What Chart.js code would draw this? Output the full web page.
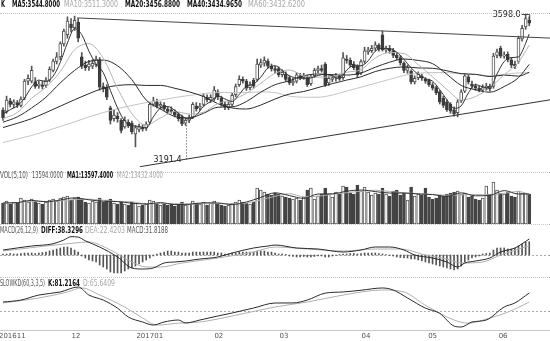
<!DOCTYPE html>
<html>
<head>
<meta charset="utf-8">
<script src="https://cdn.jsdelivr.net/npm/chart.js@4/dist/chart.umd.min.js"></script>
<style>
body { margin:0; background:#fff; width:550px; height:341px; overflow:hidden; position:relative;
       font-family:"DejaVu Sans",sans-serif; }
canvas { position:absolute; left:0; }
.t { position:absolute; font-size:8.5px; line-height:9px; white-space:nowrap; color:#555; z-index:2;
     transform-origin:left center; }
.top { font-size:9px; }
.d { color:#111; font-weight:bold; }
.l { color:#a8a8a8; }
.sep { position:absolute; left:0; width:550px; height:0; border-top:1px dotted #c4c4c4; z-index:1; }
</style>
</head>
<body>
<canvas id="kline" width="550" height="172" style="top:0px"></canvas>
<canvas id="vol" width="550" height="52" style="top:172px"></canvas>
<canvas id="macd" width="550" height="53" style="top:224px"></canvas>
<canvas id="kd" width="550" height="64" style="top:277px"></canvas>

<div class="sep" style="top:13px"></div>
<div class="sep" style="top:172px"></div>
<div class="sep" style="top:224px"></div>
<div class="sep" style="top:277px"></div>

<div class="t top d" data-w="4" style="left:1px;top:0px">K</div>
<div class="t top d" data-w="48" style="left:12px;top:0px">MA5:3544.8000</div>
<div class="t top l" data-w="54" style="left:64px;top:0px">MA10:3511.3000</div>
<div class="t top d" data-w="55" style="left:125px;top:0px">MA20:3456.8800</div>
<div class="t top d" data-w="55" style="left:187px;top:0px">MA40:3434.9650</div>
<div class="t top l" data-w="57" style="left:248px;top:0px">MA60:3432.6200</div>

<div class="t" data-w="28" style="left:0px;top:171px">VOL(5,10)</div>
<div class="t" data-w="31" style="left:32px;top:171px">13594.0000</div>
<div class="t d" data-w="46" style="left:67px;top:171px">MA1:13597.4000</div>
<div class="t l" data-w="46" style="left:117px;top:171px">MA2:13432.4000</div>

<div class="t" data-w="38" style="left:0px;top:226px">MACD(26,12,9)</div>
<div class="t d" data-w="42" style="left:41px;top:226px">DIFF:38.3296</div>
<div class="t l" data-w="40" style="left:85px;top:226px">DEA:22.4203</div>
<div class="t" data-w="41" style="left:127px;top:226px">MACD:31.8188</div>

<div class="t" data-w="45" style="left:0px;top:279px">SLOWKD(60,3,3,5)</div>
<div class="t d" data-w="32" style="left:48px;top:279px">K:81.2164</div>
<div class="t l" data-w="32" style="left:83px;top:279px">D:65.6409</div>

<script>
// daily bars, Nov 2016 - Jun 2017
const openP = [3329,3325,3355,3345,3350,3342,3362,3410,3410,3408, 3397,3400,3398,3413,3440,3465,3478,3514,3540,3570,
  3560,3575,3478,3455,3450,3452,3456,3470,3395,3392, 3335,3305,3312,3300,3282,3295,3292,3262,3275,3280,
  3278,3295,3345,3352,3340,3342,3332,3330,3325,3318, 3310,3292,3300,3310,3340,3334,3345,3365,3357,3360,
  3380,3362,3345,3336,3345,3372,3400,3415,3410,3392, 3412,3415,3455,3460,3466,3452,3445,3445,3428,3430,
  3420,3405,3410,3425,3420,3420,3403,3425,3440,3445, 3458,3405,3415,3418,3425,3420,3472,3468,3458,3452,
  3432,3465,3492,3495,3502,3510,3540,3497,3502,3495, 3482,3476,3460,3440,3438,3408,3420,3424,3415,3412,
  3400,3392,3380,3362,3352,3345,3330,3322,3355,3382, 3422,3402,3396,3390,3385,3390,3396,3395,3482,3502,
  3480,3485,3470,3458,3465,3528,3562,3580];
const highP = [3335,3368,3362,3358,3356,3366,3415,3428,3452,3420, 3410,3410,3420,3450,3472,3490,3520,3556,3590,3585,
  3592,3585,3490,3466,3468,3470,3480,3476,3405,3400, 3340,3330,3322,3305,3310,3302,3298,3286,3290,3288,
  3296,3350,3365,3360,3352,3350,3338,3338,3330,3322, 3315,3306,3315,3350,3350,3348,3375,3372,3372,3395,
  3386,3368,3352,3352,3376,3402,3425,3422,3415,3408, 3418,3472,3472,3478,3472,3458,3452,3450,3442,3436,
  3425,3418,3434,3432,3432,3426,3428,3446,3452,3455, 3462,3425,3428,3432,3430,3490,3482,3475,3465,3456,
  3470,3505,3505,3510,3520,3515,3550,3508,3510,3502, 3488,3482,3464,3455,3442,3425,3436,3430,3420,3416,
  3406,3396,3384,3368,3358,3350,3338,3358,3386,3432, 3428,3410,3402,3396,3400,3404,3402,3488,3500,3508,
  3492,3492,3476,3466,3536,3566,3598,3590];
const lowP = [3300,3320,3338,3335,3336,3338,3358,3400,3405,3390, 3390,3388,3392,3408,3436,3458,3470,3508,3530,3548,
  3552,3520,3445,3440,3440,3445,3450,3385,3380,3358, 3290,3298,3295,3265,3278,3280,3262,3226,3268,3270,
  3272,3290,3340,3335,3332,3328,3318,3320,3310,3298, 3285,3286,3294,3305,3326,3328,3340,3352,3350,3355,
  3358,3340,3330,3330,3340,3366,3395,3404,3384,3386, 3390,3410,3448,3452,3446,3438,3432,3422,3422,3410,
  3400,3398,3405,3414,3415,3395,3398,3420,3434,3435, 3395,3398,3408,3410,3412,3415,3460,3450,3442,3420,
  3428,3460,3485,3490,3495,3494,3494,3490,3488,3476, 3470,3455,3434,3432,3402,3402,3414,3412,3404,3395,
  3385,3372,3346,3336,3325,3320,3312,3310,3350,3378, 3402,3390,3384,3380,3380,3384,3382,3390,3475,3475,
  3474,3464,3448,3445,3460,3522,3555,3565];
const closeP = [3307,3357,3345,3352,3343,3360,3410,3418,3440,3395, 3402,3395,3413,3443,3466,3478,3515,3550,3578,3560,
  3580,3530,3452,3448,3458,3460,3472,3393,3388,3365, 3300,3315,3305,3272,3300,3285,3268,3280,3282,3276,
  3290,3345,3355,3340,3345,3332,3325,3325,3315,3305, 3290,3300,3308,3345,3332,3340,3368,3358,3365,3385,
  3365,3345,3338,3345,3370,3395,3415,3410,3390,3400, 3396,3458,3462,3468,3452,3445,3440,3428,3435,3415,
  3405,3410,3428,3420,3425,3400,3422,3440,3445,3440, 3400,3418,3420,3425,3418,3475,3468,3455,3448,3428,
  3465,3495,3498,3502,3512,3500,3498,3502,3495,3482, 3476,3462,3440,3448,3408,3418,3430,3418,3410,3400,
  3390,3378,3352,3342,3330,3326,3318,3352,3380,3425, 3408,3396,3390,3385,3392,3396,3388,3480,3492,3480,
  3484,3470,3455,3452,3530,3558,3585,3572];
const volume = [9510,10420,9060,9970,9510,11780,10870,9970,11330,10420, 9510,9060,9970,10870,11330,10420,11780,12230,12680,10870,
  11780,12230,11330,9970,9510,10420,9970,11780,9970,10870, 11330,9510,9060,10420,9060,8610,9970,9510,8150,8610,
  9060,10870,10420,9510,8610,9060,8610,9510,8150,9060, 9970,8610,9060,10420,9510,9060,9970,8610,9510,10420,
  9060,8610,8150,8610,9510,9970,10870,9970,9510,9060, 9970,16310,15400,14500,13590,13140,14040,13590,12680,12230,
  11780,11330,11780,10870,12230,15400,16310,11330,12680,13590, 16310,13590,12230,14500,13590,17210,16760,14040,13590,17670,
  14950,16760,14500,13140,14040,13590,16310,13590,12680,14950, 15400,13140,14040,10870,16760,12680,13590,13140,16310,12230,
  11330,11780,13140,12680,13590,14040,14500,14950,13590,14040, 12230,12680,11330,10870,11780,17210,13590,19030,15400,14040,
  13590,14500,12680,12230,14950,14040,14040,13594];

// moving averages
const ma5Idx = [0,2,4,6,8,10,12,14,16,18,20,22,24,26,28,30,32,34,36,38,40,42,44,46,48,50,52,54,56,58,60,62,64,66,68,70,
  72,74,76,78,80,82,84,86,88,90,92,94,96,98,100,102,104,106,108,110,112,114,116,118,120,122,124,126,128,130,132,134,136,138,
  140,142,144,146,147];
const ma5 = [3318,3330,3341,3362,3394,3413,3409,3424,3463,3517,3557,3540,3494,3458,3434,3384,3335,3298,3286,3283,3279,3310,
  3335,3339,3328,3312,3304,3315,3339,3353,3368,3360,3353,3373,3396,3402,3421,3447,3453,3440,3425,3419,3418,3419,3426,3429,
  3425,3416,3441,3453,3453,3467,3494,3502,3501,3491,3471,3447,3429,3417,3410,3386,3358,3334,3341,3377,3400,3394,3390,3430,
  3465,3476,3478,3516,3542];
const maIdx = [0,4,8,12,16,20,24,28,32,36,40,44,48,52,56,60,64,68,72,76,80,84,88,92,96,100,104,108,112,116,120,124,128,132,
  136,140,144,147];
const ma10 = [3305,3322,3362,3393,3437,3498,3515,3474,3390,3319,3287,3307,3325,3318,3323,3347,3358,3376,3404,3432,3441,3425,
  3421,3423,3435,3442,3475,3490,3487,3456,3422,3387,3357,3367,3391,3428,3463,3511];
const ma20 = [3295,3310,3335,3365,3405,3440,3465,3469,3453,3414,3357,3332,3311,3307,3320,3337,3338,3353,3379,3400,3411,3425,
  3430,3428,3427,3433,3449,3463,3472,3468,3459,3429,3398,3386,3379,3395,3420,3457];
const ma40 = [3280,3292,3305,3322,3340,3358,3375,3390,3398,3400,3398,3398,3390,3380,3367,3347,3335,3332,3343,3360,3374,3381,
  3392,3403,3413,3422,3437,3446,3450,3447,3446,3439,3431,3429,3423,3427,3424,3435];
const ma60 = [3238,3248,3258,3270,3283,3296,3310,3322,3333,3342,3350,3357,3364,3370,3375,3378,3378,3378,3380,3378,3368,3365,
  3365,3371,3382,3393,3404,3415,3426,3432,3434,3434,3430,3429,3425,3429,3433,3433];

const volMa1 = [9510,9690,10690,10060,10870,11870,10960,10330,10150,9420,9060,9690,8790,8970,9600,9510,8790,9970,12050,14130,
  12870,11600,13590,13680,14860,15400,14680,14040,14040,13590,13320,12500,14130,12770,12960,15130,13590,13597];
const volMa2 = [9510,9740,10190,10240,10460,11100,11280,10780,10240,10060,9200,9330,9240,9010,9330,9420,9150,9470,10920,12550,
  13730,12370,12590,13450,14180,14810,15270,14720,14090,13770,13410,13050,13180,13360,13230,13950,14720,13432];

const macdHist = [2.4,2.4,3.6,2.4,2.4, 3.6,4.8,4.8,4.8,3.6,4.8, 6,7.2,9.6,12,14.4,16.8, 19.2,19.2,16.8,12,
  7.2,-2.4,-7.2,-12,-14.4,-16.8,-24,-28.8,-33.6,-40.8,-43.2,-43.2,-43.2,-38.4,-33.6,-31.2,-26.4,-21.6,-16.8,-12,-7.2,-2.4,2.4,
  4.8,7.2,9.6,9.6,7.2,7.2,4.8,4.8,4.8,7.2,7.2,7.2,7.2,7.2,7.2,7.2,4.8,4.8,2.4,2.4,4.8,4.8,7.2,7.2,7.2,7.2,7.2,9.6,9.6,9.6,7.2,7.2,4.8,
  2.4,2.4,1.2,-2.4,-3.6,-4.8,-4.8,-3.6,-4.8,-4.8,-3.6,-2.4,-2.4,-4.8,-4.8,-2.4,-1.2,1.2,2.4,2.4,3.6,3.6,2.4,3.6,
  4.8,4.8,4.8,4.8,3.6,2.4,1.2,-1.2,-2.4,-4.8,-6,-7.2,-7.2,-9.6,-9.6,-12,-14.4,-16.8,-19.2,-21.6,-24,-26.4,-28.8,-31.2,
  -33.6,-36,-33.6,-26.4,-16.8,-12,-7.2,-4.8,-2.4,2.4,3.6,4.8,12,16.8,16.8,16.8,14.4,14.4,16.8,21.6,26.4,31.2,31.8];
const diffIdx = [0,8,14,17,19,21,23,27,32,36,39,42,45,48,51,55,60,64,70,74,76,82,88,95,100,104,108,112,115,120,124,127,129,
  132,136,139,143,147];
const diffVal = [12,21.6,27,36,44,43,34,19.2,-4.8,-31.2,-33.6,-31.2,-19.2,-16.8,-14.4,-9.6,-4.8,4.8,16.8,21.6,24,16.8,14.4,
  7.2,12,19.2,19.2,12,0,-7.2,-16.8,-28.8,-19.2,-14.4,-7.2,7.2,16.8,38.3];
const deaIdx = [0,20,24,30,36,40,44,50,60,70,76,85,95,104,111,118,124,128,134,139,147];
const deaVal = [9.6,28.8,31.2,12,-16.8,-28.8,-28.8,-19.2,-7.2,7.2,19.2,14.4,9.6,14.4,14.4,0,-9.6,-19.2,-16.8,0,22.4];

const kIdx = [0,5,10,16,21,24,28,32,35,39,42,45,49,51,55,60,64,70,76,81,85,90,95,100,106,109,113,118,122,126,128,131,135,140,
  143,147];
const kVal = [65.6,69,77.7,83,91.6,77.7,69,55,39.7,31,25.8,31,34.5,29.3,34.5,41.4,46.6,55.2,63.9,64,69,81,83,86,89.9,86.4,
  72.6,55,46,24,22.4,31,34.5,57,64,81.2];
const dIdx = [0,10,18,22,27,34,39,43,49,55,64,76,85,95,106,112,118,126,130,136,141,147];
const dVal = [64,72.5,83,90,77.7,57,38,25.8,29,31,41.4,57,65.6,77.7,86.4,83,60,34.5,29,38,48,65.6];

// drawn trend lines (bar index, price)
const trendTop = [{x: 20.7, y: 3587}, {x: 152.8, y: 3530.5}];
const trendLow = [{x: 38.3, y: 3170.6}, {x: 152.8, y: 3357.7}];
const lowMarkIdx = 51, lowMarkPrice = 3191.4;

const monthIdx = [2.6, 20.4, 41, 60.3, 78.5, 101.4, 120, 139.7];
const monthLabels = ['201611', '12', '201701', '02', '03', '04', '05', '06'];

const xMin = -0.84, xMax = 152.8;
const bars = closeP.map((c, i) => i);
const up = closeP.map((c, i) => c >= openP[i]);

// squeeze each caption to the width it has in the picture
document.querySelectorAll('.t[data-w]').forEach(el => {
    const w = el.getBoundingClientRect().width;
    if (w > 0) el.style.transform = 'scaleX(' + (el.dataset.w / w) + ')';
});

function pts(idx, vals) {
    return idx.map((i, k) => ({x: i, y: vals[k]}));
}

function line(data, color) {
    return {
        type: 'line', data: data, borderColor: color, borderWidth: 1,
        pointRadius: 0, cubicInterpolationMode: 'monotone', order: 0
    };
}

function options(yMin, yMax, extra) {
    return Object.assign({
        responsive: false, animation: false, events: [],
        layout: {padding: 0},
        plugins: {legend: {display: false}, tooltip: {enabled: false}},
        scales: {
            x: {type: 'linear', min: xMin, max: xMax, display: false, offset: false, grid: {offset: false}},
            y: {type: 'linear', min: yMin, max: yMax, display: false}
        }
    }, extra || {});
}

// dashed reference lines
const refLines = {
    id: 'refLines',
    beforeDatasetsDraw(chart, args, opts) {
        const {ctx, chartArea, scales} = chart;
        (opts.values || []).forEach(v => {
            const y = Math.round(scales.y.getPixelForValue(v)) + 0.5;
            ctx.save();
            ctx.strokeStyle = '#aaa';
            ctx.lineWidth = 1;
            ctx.setLineDash([2, 2]);
            ctx.beginPath();
            ctx.moveTo(chartArea.left, y);
            ctx.lineTo(chartArea.right, y);
            ctx.stroke();
            ctx.restore();
        });
    }
};

// max / min price notes on the k-line chart
const priceNotes = {
    id: 'priceNotes',
    afterDatasetsDraw(chart) {
        const {ctx, scales: {x, y}} = chart;
        let hi = 0;
        highP.forEach((h, i) => { if (h > highP[hi]) hi = i; });
        const hx = x.getPixelForValue(hi), hy = Math.round(y.getPixelForValue(highP[hi])) + 0.5;
        ctx.save();
        ctx.font = '8px "DejaVu Sans", sans-serif';
        ctx.fillStyle = '#222';
        ctx.strokeStyle = '#444';
        ctx.lineWidth = 1;
        ctx.textAlign = 'right';
        ctx.textBaseline = 'middle';
        ctx.fillText(highP[hi].toFixed(1), hx - 5, hy);
        ctx.beginPath();
        ctx.moveTo(hx - 4, hy);
        ctx.lineTo(hx + 4, hy);
        ctx.lineTo(hx + 4, hy + 6);
        ctx.stroke();

        const lx = Math.round(x.getPixelForValue(lowMarkIdx)) + 0.5;
        const ly1 = y.getPixelForValue(lowP[lowMarkIdx]);
        const ly2 = y.getPixelForValue(lowMarkPrice);
        ctx.setLineDash([1, 2]);
        ctx.beginPath();
        ctx.moveTo(lx, ly1);
        ctx.lineTo(lx, ly2);
        ctx.stroke();
        ctx.setLineDash([]);
        ctx.fillText(lowMarkPrice.toFixed(1), lx - 5, ly2 + 1);
        ctx.restore();
    }
};

// month labels under the last panel
const monthAxis = {
    id: 'monthAxis',
    afterDraw(chart) {
        const {ctx, chartArea, scales: {x}} = chart;
        ctx.save();
        ctx.strokeStyle = '#c8c8c8';
        ctx.lineWidth = 1;
        ctx.beginPath();
        ctx.moveTo(chartArea.left, Math.round(chartArea.bottom) + 0.5);
        ctx.lineTo(chartArea.right, Math.round(chartArea.bottom) + 0.5);
        ctx.stroke();
        ctx.fillStyle = '#555';
        ctx.font = '7px "DejaVu Sans", sans-serif';
        ctx.textAlign = 'center';
        ctx.textBaseline = 'middle';
        monthIdx.forEach((v, k) => ctx.fillText(monthLabels[k], x.getPixelForValue(v), chartArea.bottom + 6));
        ctx.restore();
    }
};

new Chart(document.getElementById('kline'), {
    type: 'bar',
    data: {
        datasets: [
            Object.assign(line(trendTop, '#444'), {cubicInterpolationMode: 'default'}),
            Object.assign(line(trendLow, '#333'), {cubicInterpolationMode: 'default'}),
            line(pts(ma5Idx, ma5), '#333'),
            line(pts(maIdx, ma10), '#b4b4b4'),
            line(pts(maIdx, ma20), '#2a2a2a'),
            line(pts(maIdx, ma40), '#2a2a2a'),
            line(pts(maIdx, ma60), '#c4c4c4'),
            {
                label: 'body',
                data: bars.map(i => ({x: i, y: [openP[i], closeP[i]]})),
                barThickness: 3, borderWidth: 1, borderSkipped: false, grouped: false,
                backgroundColor: up.map(u => u ? '#fff' : '#3c3c3c'),
                borderColor: up.map(u => u ? '#555' : '#3c3c3c'),
                order: 2
            },
            {
                label: 'wick',
                data: bars.map(i => ({x: i, y: [lowP[i], highP[i]]})),
                barThickness: 1, grouped: false, backgroundColor: '#555',
                order: 3
            }
        ]
    },
    options: options(3155.6, 3637.2),
    plugins: [priceNotes]
});

new Chart(document.getElementById('vol'), {
    type: 'bar',
    data: {
        datasets: [
            line(pts(maIdx, volMa1), '#333'),
            line(pts(maIdx, volMa2), '#b0b0b0'),
            {
                label: 'vol',
                data: bars.map(i => ({x: i, y: volume[i]})),
                barThickness: 3, borderWidth: 1, borderSkipped: false, grouped: false,
                backgroundColor: up.map(u => u ? '#fff' : '#444'),
                borderColor: up.map(u => u ? '#555' : '#444'),
                order: 2
            }
        ]
    },
    options: options(0, 23556)
});

new Chart(document.getElementById('macd'), {
    type: 'bar',
    data: {
        datasets: [
            line(pts(diffIdx, diffVal), '#2a2a2a'),
            line(pts(deaIdx, deaVal), '#b0b0b0'),
            {
                label: 'MACD',
                data: bars.map(i => ({x: i, y: macdHist[i]})),
                barThickness: 1, grouped: false, backgroundColor: '#555',
                order: 2
            }
        ]
    },
    options: options(-52.8, 74.4, {plugins: {legend: {display: false}, tooltip: {enabled: false}, refLines: {values: [0]}}}),
    plugins: [refLines]
});

new Chart(document.getElementById('kd'), {
    type: 'line',
    data: {
        datasets: [
            line(pts(kIdx, kVal), '#2a2a2a'),
            line(pts(dIdx, dVal), '#b0b0b0')
        ]
    },
    options: options(17.2, 108.9, {
        layout: {padding: {bottom: 11}},
        plugins: {legend: {display: false}, tooltip: {enabled: false}, refLines: {values: [50]}}
    }),
    plugins: [refLines, monthAxis]
});
</script>
</body>
</html>
